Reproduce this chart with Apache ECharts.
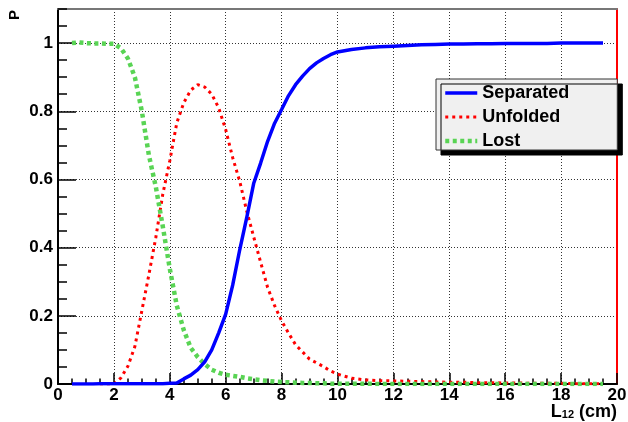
<!DOCTYPE html>
<html>
<head>
<meta charset="utf-8">
<script src="https://cdn.jsdelivr.net/npm/echarts@6/dist/echarts.min.js"></script>
<style>
  html, body { margin: 0; padding: 0; background: #ffffff; }
  #chart { width: 628px; height: 422px; }
</style>
</head>
<body>
<div id="chart"></div>
<script>
// Distance L12 (cm) at which each probability was evaluated
const lengths = [
  0.5, 0.75, 1, 1.25, 1.5, 1.75, 2, 2.25, 2.5, 2.75,
  3, 3.25, 3.5, 3.75, 4, 4.25, 4.5, 4.75, 5, 5.25,
  5.5, 5.75, 6, 6.25, 6.5, 6.75, 7, 7.25, 7.5, 7.75,
  8, 8.25, 8.5, 8.75, 9, 9.25, 9.5, 9.75, 10,
  10.5, 11, 11.5, 12, 12.5, 13, 13.5, 14, 14.5, 15,
  15.5, 16, 16.5, 17, 17.5, 18, 18.5, 19, 19.5
];

// Probability that the pair is separated
const separated = [
  0, 0, 0, 0, 0.001, 0.001, 0.001, 0.001, 0.001, 0.001,
  0.001, 0.001, 0.001, 0.001, 0.002, 0.003, 0.015, 0.026, 0.042, 0.065,
  0.1, 0.15, 0.205, 0.29, 0.393, 0.487, 0.588, 0.648, 0.712, 0.765,
  0.805, 0.846, 0.878, 0.903, 0.925, 0.942, 0.955, 0.966, 0.974,
  0.981, 0.986, 0.989, 0.991, 0.993, 0.995, 0.996, 0.997, 0.997, 0.998,
  0.998, 0.999, 0.999, 0.999, 0.999, 1.0, 1.0, 1.0, 1.0
];

// Probability that the pair is unfolded (no value below 1.5 cm)
const unfolded = [
  null, null, null, null, 0, 0, 0, 0.018, 0.052, 0.11,
  0.215, 0.32, 0.43, 0.557, 0.655, 0.766, 0.825, 0.862, 0.878, 0.871,
  0.85, 0.81, 0.746, 0.664, 0.595, 0.508, 0.432, 0.357, 0.283, 0.23,
  0.185, 0.149, 0.115, 0.094, 0.073, 0.062, 0.051, 0.038, 0.029,
  0.017, 0.012, 0.01, 0.009, 0.008, 0.007, 0.006, 0.005, 0.005, 0.004,
  0.004, 0.003, 0.003, 0.002, 0.002, 0.002, 0.001, 0.001, 0.001
];

// Probability that the pair is lost
const lost = [
  1.0, 1.002, 1.0, 0.999, 0.999, 0.998, 0.998, 0.985, 0.955, 0.9,
  0.8, 0.672, 0.578, 0.462, 0.338, 0.23, 0.158, 0.106, 0.079, 0.058,
  0.042, 0.033, 0.027, 0.024, 0.021, 0.017, 0.014, 0.011, 0.009, 0.007,
  0.006, 0.005, 0.004, 0.003, 0.003, 0.002, 0.002, 0.001, 0.001,
  0.001, 0.001, 0, 0, 0, 0, 0, 0, 0, 0,
  0, 0, 0, 0, 0, 0, 0, 0, 0
];

const seriesNames = ['Separated', 'Unfolded', 'Lost'];
const yMajorTicks = [0, 0.2, 0.4, 0.6, 0.8, 1];

const FONT = '"Liberation Sans", Arial, Helvetica, sans-serif';

function pairs(values) {
  const out = [];
  for (let i = 0; i < lengths.length; i++) {
    if (values[i] !== null) out.push([lengths[i], values[i]]);
  }
  return out;
}

const gridDots = { color: '#333333', type: [1, 2], width: 1 };
const tickLine = { color: '#000000', width: 1.5 };
const labelFont = { color: '#000000', fontSize: 17, fontWeight: 'bold', fontFamily: FONT };

const chart = echarts.init(document.getElementById('chart'), null, { renderer: 'canvas' });

chart.setOption({
  animation: false,
  backgroundColor: '#ffffff',
  grid: { left: 58, right: 11, top: 9, bottom: 38, containLabel: false, outerBoundsMode: 'none' },
  // x-axis title, set at the lower right corner below the tick labels
  title: {
    text: '{l|L}{s|12}{l| (cm)}',
    right: 11, top: 403, padding: 0,
    textStyle: {
      rich: {
        l: { fontSize: 18, fontWeight: 'bold', fontFamily: FONT, color: '#000000', lineHeight: 17, verticalAlign: 'top' },
        s: { fontSize: 11, fontWeight: 'bold', fontFamily: FONT, color: '#000000', lineHeight: 12, verticalAlign: 'bottom', padding: [9, 0, 0, 0] }
      }
    }
  },
  xAxis: [
    {
      type: 'value', min: 0, max: 20, interval: 2, position: 'bottom',
      axisLine: { show: true, onZero: false, lineStyle: { color: '#000000', width: 2 } },
      axisTick: { show: true, inside: true, length: 11, lineStyle: tickLine },
      minorTick: { show: true, splitNumber: 4, length: 5.5, lineStyle: tickLine },
      axisLabel: Object.assign({ margin: 3 }, labelFont),
      splitLine: { show: true, lineStyle: gridDots }
    },
    {
      // upper frame edge
      type: 'value', min: 0, max: 20, position: 'top',
      axisLine: { show: true, onZero: false, lineStyle: { color: '#777777', width: 2 } },
      axisTick: { show: false }, axisLabel: { show: false }, splitLine: { show: false }
    }
  ],
  yAxis: [
    {
      type: 'value', min: 0, max: 1.1, interval: 0.2, position: 'left',
      axisLine: { show: true, onZero: false, lineStyle: { color: '#000000', width: 2 } },
      axisTick: { show: true, inside: true, length: 18, customValues: yMajorTicks, lineStyle: tickLine },
      axisLabel: Object.assign({ margin: 5, customValues: yMajorTicks }, labelFont),
      splitLine: { show: true, lineStyle: gridDots }
    },
    {
      // fine ticks every 0.05
      type: 'value', min: 0, max: 1.1, interval: 0.05, position: 'left',
      axisLine: { show: false },
      axisTick: { show: true, inside: true, length: 9, lineStyle: tickLine },
      axisLabel: { show: false }, splitLine: { show: false }
    },
    {
      // right frame edge
      type: 'value', min: 0, max: 1.1, position: 'right',
      axisLine: { show: true, onZero: false, lineStyle: { color: '#ff0000', width: 2 } },
      axisTick: { show: false }, axisLabel: { show: false }, splitLine: { show: false }
    }
  ],
  legend: {
    orient: 'vertical',
    left: 436, top: 79,
    data: seriesNames,
    backgroundColor: '#f0f0f0',
    borderColor: '#333333', borderWidth: 1, borderRadius: 0,
    shadowColor: '#000000', shadowBlur: 0, shadowOffsetX: 5, shadowOffsetY: 5,
    padding: [5, 48, 0, 7],
    itemWidth: 32, itemHeight: 14, itemGap: 6,
    itemStyle: { opacity: 0 },
    lineStyle: { width: 'inherit' },
    textStyle: { fontSize: 18, fontWeight: 'bold', fontFamily: FONT, color: '#000000' }
  },
  graphic: [
    {
      type: 'text', x: 15, y: 15, rotation: Math.PI / 2,
      style: { text: 'P', font: 'bold 15px ' + FONT, fill: '#000000', align: 'center', verticalAlign: 'middle' }
    }
  ],
  series: [
    {
      name: seriesNames[0], type: 'line', data: pairs(separated),
      xAxisIndex: 0, yAxisIndex: 0, symbol: 'none', z: 4,
      lineStyle: { color: '#0000ff', width: 3.5 }, itemStyle: { color: '#0000ff' }
    },
    {
      name: seriesNames[1], type: 'line', data: pairs(unfolded),
      xAxisIndex: 0, yAxisIndex: 0, symbol: 'none', z: 3,
      lineStyle: { color: '#ff0000', width: 3, type: [3, 4] }, itemStyle: { color: '#ff0000' }
    },
    {
      name: seriesNames[2], type: 'line', data: pairs(lost),
      xAxisIndex: 0, yAxisIndex: 0, symbol: 'none', z: 3,
      lineStyle: { color: '#59d454', width: 4.5, type: [4, 3.5] }, itemStyle: { color: '#59d454' }
    }
  ]
});
</script>
</body>
</html>
